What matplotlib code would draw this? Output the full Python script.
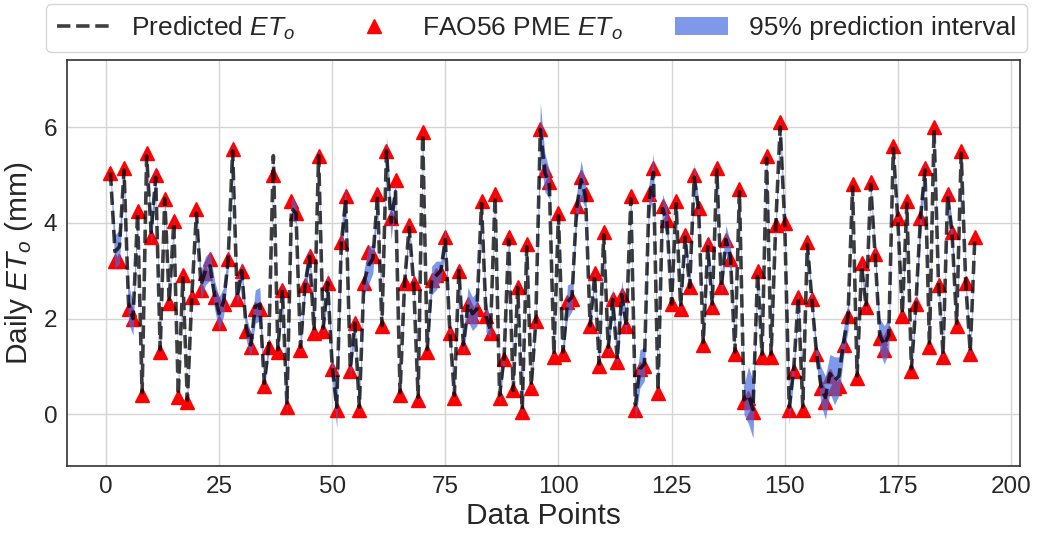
import numpy as np
import matplotlib
matplotlib.use("Agg")
import matplotlib.pyplot as plt
from matplotlib.lines import Line2D
from matplotlib.patches import Patch

# ---- data ----
obs = [5.05, 3.2, 3.2, 5.15, 2.2, 2.0, 4.25, 0.4, 5.45, 3.7,
       5.0, 1.3, 4.5, 2.33, 4.04, 0.37, 2.9, 0.25, 2.45, 4.28,
       2.6, 2.95, 3.25, 2.45, 1.9, 2.3, 3.25, 5.55, 2.4, 3.0,
       1.75, 1.4, 2.2, 2.2, 0.6, 1.4, 5.0, 1.3, 2.6, 0.15,
       4.45, 4.2, 1.35, 2.7, 3.3, 1.7, 5.4, 1.75, 2.75, 0.95,
       0.1, 3.6, 4.55, 0.9, 1.9, 0.1, 2.75, 3.4, 3.3, 4.6,
       1.85, 5.5, 4.1, 4.9, 0.4, 2.75, 3.95, 2.75, 0.3, 5.9,
       1.3, 2.8, 2.9, 2.95, 3.7, 1.7, 0.35, 3.0, 1.4, 2.3,
       2.05, 2.2, 4.45, 2.05, 1.7, 4.6, 0.35, 1.15, 3.7, 0.5,
       2.65, 0.05, 3.55, 0.55, 1.95, 5.95, 5.1, 4.85, 1.2, 4.2,
       1.25, 2.35, 2.4, 4.35, 4.95, 4.6, 1.85, 2.95, 1.0, 3.8,
       1.35, 2.4, 1.1, 2.5, 1.85, 4.55, 0.1, 0.95, 1.0, 4.6,
       5.15, 0.45, 4.35, 4.05, 2.3, 4.45, 2.2, 3.75, 2.65, 5.0,
       4.3, 1.45, 3.55, 2.25, 5.15, 2.65, 3.65, 3.25, 1.25, 4.7,
       0.25, 0.35, 0.05, 3.0, 1.2, 5.4, 1.2, 3.95, 6.1, 4.0,
       0.1, 0.9, 2.45, 0.1, 3.6, 2.4, 1.25, 0.55, 0.25, 0.8,
       0.55, 0.6, 1.45, 2.05, 4.8, 0.75, 3.15, 2.25, 4.85, 3.35,
       1.6, 1.35, 1.7, 5.6, 4.1, 2.05, 4.45, 0.9, 2.3, 4.1,
       5.15, 1.4, 6.0, 2.7, 1.2, 4.6, 3.8, 1.85, 5.5, 2.75,
       1.25, 3.7]

pred = [5.05, 3.4, 3.5, 5.1, 2.3, 2.0, 4.2, 0.45, 5.4, 3.8,
        4.95, 1.35, 4.5, 2.35, 4.0, 0.4, 2.85, 0.3, 2.5, 4.2,
        2.7, 3.0, 3.1, 2.5, 2.1, 2.35, 3.2, 5.5, 2.45, 3.0,
        1.8, 1.45, 2.25, 2.3, 0.65, 1.45, 5.4, 1.35, 2.6, 0.2,
        4.3, 4.2, 1.4, 2.7, 3.3, 1.75, 5.4, 1.8, 2.75, 1.0,
        0.15, 3.55, 4.5, 0.95, 1.9, 0.15, 2.75, 3.1, 3.25, 4.55,
        1.85, 5.5, 4.0, 4.65, 0.45, 2.75, 3.9, 2.75, 0.35, 5.85,
        1.35, 2.8, 2.9, 3.0, 3.65, 1.75, 0.4, 3.0, 1.45, 2.3,
        2.1, 2.2, 4.4, 2.05, 1.75, 4.55, 0.4, 1.2, 3.65, 0.5,
        2.65, 0.1, 3.5, 0.6, 1.95, 5.95, 5.05, 4.8, 1.25, 4.15,
        1.3, 2.35, 2.45, 4.3, 4.9, 4.55, 1.85, 2.9, 1.05, 3.75,
        1.4, 2.4, 1.15, 2.5, 1.85, 4.5, 0.2, 0.95, 1.05, 4.45,
        5.05, 0.5, 4.3, 4.0, 2.3, 4.4, 2.25, 3.7, 2.65, 4.95,
        4.25, 1.5, 3.5, 2.3, 5.1, 2.65, 3.65, 3.3, 1.3, 4.65,
        0.3, 0.4, 0.1, 2.95, 1.25, 5.35, 1.25, 3.9, 6.0, 4.0,
        0.15, 0.95, 2.45, 0.15, 3.55, 2.4, 1.3, 0.6, 0.35, 0.85,
        0.7, 0.8, 1.5, 2.05, 4.75, 0.8, 3.1, 2.25, 4.8, 3.3,
        1.65, 1.45, 1.65, 5.55, 4.05, 2.1, 4.4, 0.95, 2.3, 4.1,
        5.1, 1.45, 5.95, 2.7, 1.25, 4.55, 3.75, 1.9, 5.45, 2.75,
        1.3, 3.65]

pi_half = [0.12, 0.35, 0.35, 0.15, 0.4, 0.35, 0.15, 0.1, 0.15, 0.25,
           0.25, 0.15, 0.15, 0.15, 0.15, 0.1, 0.15, 0.1, 0.15, 0.15,
           0.3, 0.3, 0.3, 0.3, 0.35, 0.3, 0.2, 0.25, 0.2, 0.2,
           0.25, 0.25, 0.35, 0.35, 0.15, 0.15, 0.15, 0.15, 0.2, 0.3,
           0.25, 0.2, 0.15, 0.25, 0.2, 0.2, 0.2, 0.2, 0.25, 0.25,
           0.45, 0.35, 0.3, 0.25, 0.2, 0.2, 0.25, 0.4, 0.3, 0.2,
           0.15, 0.3, 0.35, 0.2, 0.1, 0.15, 0.15, 0.15, 0.15, 0.2,
           0.15, 0.3, 0.3, 0.2, 0.25, 0.15, 0.15, 0.2, 0.2, 0.35,
           0.35, 0.35, 0.15, 0.35, 0.15, 0.15, 0.2, 0.15, 0.2, 0.15,
           0.15, 0.3, 0.2, 0.15, 0.2, 0.55, 0.4, 0.3, 0.15, 0.15,
           0.15, 0.35, 0.3, 0.3, 0.4, 0.25, 0.15, 0.15, 0.2, 0.2,
           0.2, 0.25, 0.2, 0.3, 0.2, 0.2, 0.35, 0.4, 0.35, 0.35,
           0.4, 0.25, 0.3, 0.3, 0.15, 0.15, 0.2, 0.2, 0.2, 0.3,
           0.2, 0.2, 0.25, 0.2, 0.2, 0.2, 0.3, 0.3, 0.15, 0.2,
           0.3, 0.6, 0.6, 0.2, 0.15, 0.25, 0.15, 0.2, 0.25, 0.2,
           0.35, 0.2, 0.2, 0.15, 0.2, 0.15, 0.2, 0.4, 0.45, 0.4,
           0.5, 0.4, 0.3, 0.3, 0.15, 0.2, 0.15, 0.15, 0.15, 0.15,
           0.35, 0.4, 0.35, 0.15, 0.2, 0.15, 0.2, 0.15, 0.2, 0.4,
           0.2, 0.15, 0.2, 0.15, 0.2, 0.2, 0.3, 0.15, 0.15, 0.15,
           0.2, 0.15]

x = np.arange(1, len(obs) + 1)
pred_a = np.array(pred)
half_a = np.array(pi_half)

xticks = [0, 25, 50, 75, 100, 125, 150, 175, 200]
yticks = [0, 2, 4, 6]

# ---- style ----
plt.rcParams['font.family'] = ['Liberation Sans', 'DejaVu Sans']
plt.rcParams['mathtext.fontset'] = 'custom'
plt.rcParams['mathtext.rm'] = 'Liberation Sans'
plt.rcParams['mathtext.it'] = 'Liberation Sans:italic'
plt.rcParams['text.color'] = '#262626'

fig = plt.figure(figsize=(10.38, 5.34), dpi=100)
ax = fig.add_axes([67 / 1038, 1 - 466 / 534, (1020 - 67) / 1038, (466 - 60) / 534])

ax.plot(x, obs, linestyle='none', marker='^', color='red', markersize=10, zorder=2)
ax.fill_between(x, pred_a - half_a, pred_a + half_a, color='royalblue',
                alpha=0.68, linewidth=0, zorder=3)
ax.plot(x, pred, linestyle='--', color='black', alpha=0.75, linewidth=2.6, zorder=4)

ax.set_xlim(-8.6, 202.0)
ax.set_ylim(-1.08, 7.4)
ax.set_xticks(xticks)
ax.set_yticks(yticks)
ax.grid(True, color='#d5d5d5', linewidth=1.0)
ax.set_axisbelow(True)
ax.tick_params(axis='both', length=0, labelsize=17.5, colors='#262626', pad=7)
for s in ax.spines.values():
    s.set_color('#333333')
    s.set_linewidth(1.2)

ax.set_xlabel('Data Points', fontsize=21.5, color='#262626', labelpad=3)
ax.set_ylabel('Daily $ET_o$ (mm)', fontsize=21.5, color='#262626', labelpad=6)

handles = [
    Line2D([], [], linestyle='--', color='black', alpha=0.75, linewidth=2.6),
    Line2D([], [], linestyle='none', marker='^', color='red', markersize=10),
    Patch(facecolor='royalblue', alpha=0.68, linewidth=0),
]
labels = ['Predicted $ET_o$', 'FAO56 PME $ET_o$', '95% prediction interval']
leg = ax.legend(handles, labels, loc='lower center', bbox_to_anchor=(0.4927, 1.0),
                ncol=3, fontsize=19, frameon=True, fancybox=True,
                borderaxespad=0.3)
leg.get_frame().set_edgecolor('#cccccc')

fig.savefig('out.png', dpi=100)
